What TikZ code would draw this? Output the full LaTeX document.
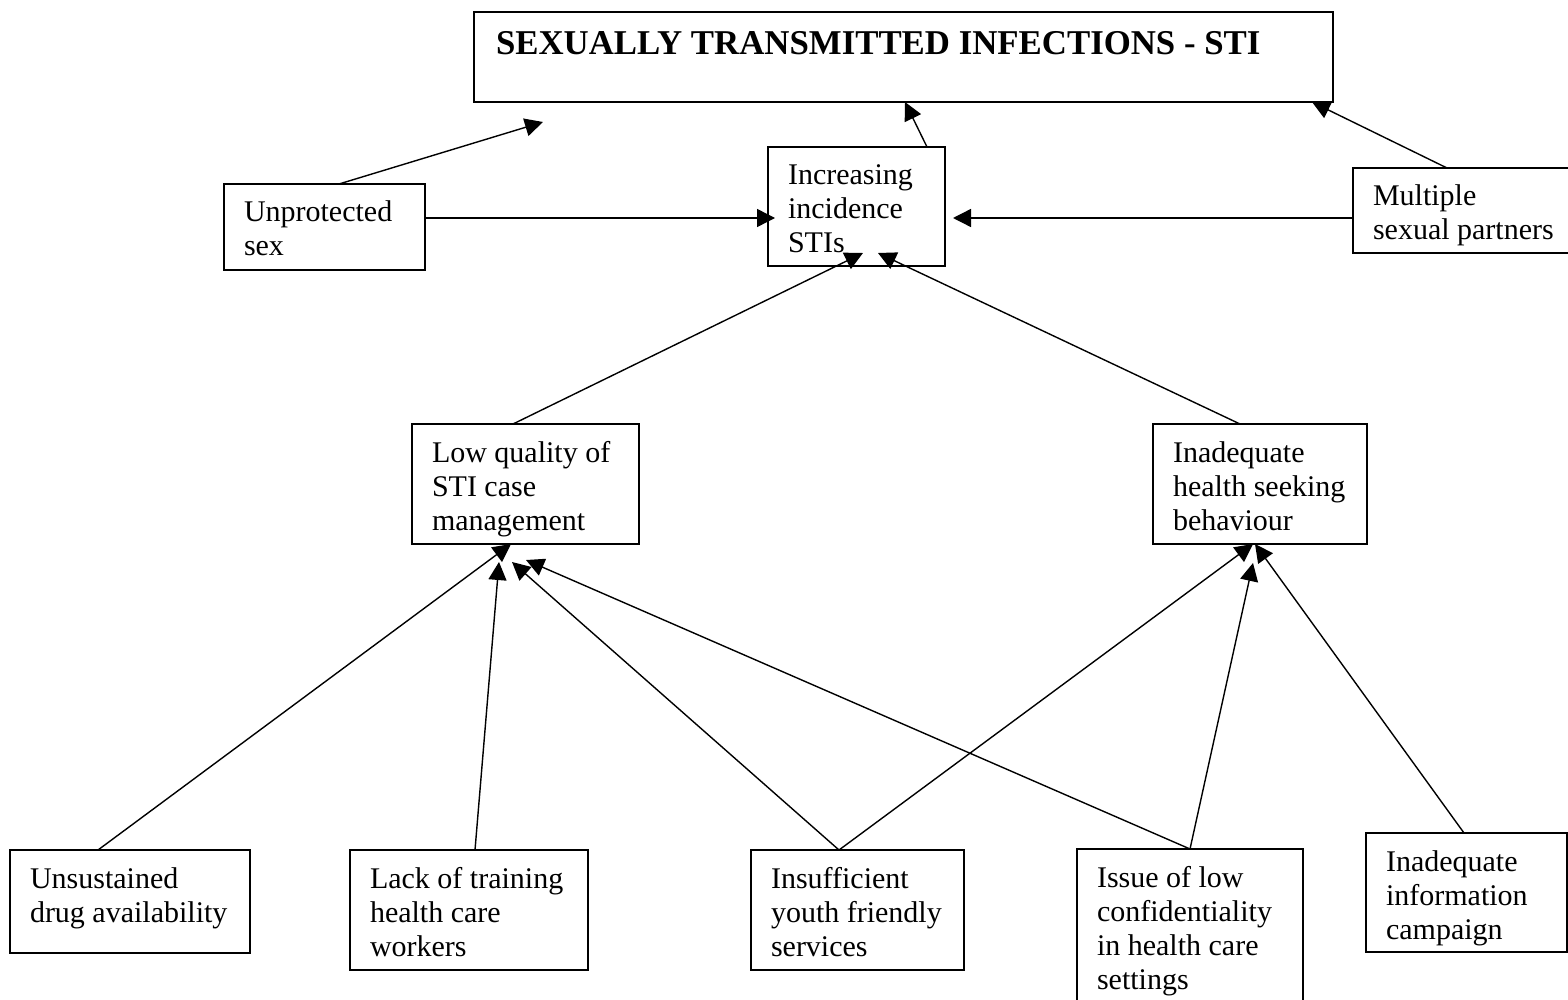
\documentclass[tikz,border=0pt]{standalone}
\usepackage{fontspec}
\setmainfont{Liberation Serif}
\usetikzlibrary{arrows.meta}
% box text: [first-baseline strut]{height px}{width px}{lines}
\newcommand{\bt}[4][19pt]{\parbox[c][\dimexpr#2pt/2\relax][t]{\dimexpr#3pt/2\relax}{\raggedright\leftskip=10pt\rule{0pt}{#1}#4}}
\tikzset{
  bx/.style={draw, line width=0.7pt, anchor=north west, inner sep=0pt, outer sep=0pt,
    font=\fontsize{15pt}{17pt}\selectfont},
  arr/.style={line width=0.7pt, -{Triangle[length=9pt,width=9pt]}}
}
\begin{document}
\begin{tikzpicture}[x=0.5pt,y=-0.5pt]
\useasboundingbox (0,0) rectangle (1568,1000);
\clip (0,0) rectangle (1568,1000);
\fill[white] (0,0) rectangle (1568,1000);

% boxes
\node[bx] (top) at (474,12) {\parbox[c][45pt][t]{429.5pt}{\fontsize{17.4pt}{20pt}\selectfont\bfseries\leftskip=11pt\rule{0pt}{21.5pt}SEXUALLY TRANSMITTED INFECTIONS - STI}};
\node[bx] (inc) at (768,147) {\bt{119}{177}{Increasing\\incidence\\STIs}};
\node[bx] (unp) at (224,184) {\bt{86}{201}{Unprotected\\sex}};
\node[bx] (mult) at (1353,168) {\bt{85}{240}{Multiple\\sexual partners}};
\node[bx] (low) at (412,424) {\bt{120}{227}{Low quality of\\STI case\\management}};
\node[bx] (inad) at (1153,424) {\bt{120}{214}{Inadequate\\health seeking\\behaviour}};
\node[bx] (uns) at (10,850) {\bt{103}{240}{Unsustained\\drug availability}};
\node[bx] (lack) at (350,850) {\bt{120}{238}{Lack of training\\health care\\workers}};
\node[bx] (insuf) at (751,850) {\bt{120}{213}{Insufficient\\youth friendly\\services}};
\node[bx] (issue) at (1077,849) {\bt{180}{226}{Issue of low\\confidentiality\\in health care\\settings}};
\node[bx] (info) at (1366,833) {\bt{119}{201}{Inadequate\\information\\campaign}};

% free arrow end
\coordinate (t1) at (543,122);

% connectors
\draw[arr] ([shift={(115,0)}]unp.north west) -- (t1);
\draw[arr] ([shift={(159,0)}]inc.north west) -- ([shift={(431,0)}]top.south west);
\draw[arr] ([shift={(94,0)}]mult.north west) -- ([shift={(-21,0)}]top.south east);
\draw[arr] ([shift={(0,34)}]unp.north east) -- ([shift={(7,71)}]inc.north west);
\draw[arr] ([shift={(0,50)}]mult.north west) -- ([shift={(8,71)}]inc.north east);
\draw[arr] ([shift={(101,0)}]low.north west) -- ([shift={(95,-13)}]inc.south west);
\draw[arr] ([shift={(87,0)}]inad.north west) -- ([shift={(110,-13)}]inc.south west);

\draw[arr] ([shift={(88,0)}]uns.north west) -- ([shift={(99,0)}]low.south west);
\draw[arr] ([shift={(125,0)}]lack.north west) -- ([shift={(87,18)}]low.south west);
\draw[arr] ([shift={(88,0)}]insuf.north west) -- ([shift={(100,18)}]low.south west);
\draw[arr] ([shift={(113,0)}]issue.north west) -- ([shift={(114,16)}]low.south west);
\draw[arr] ([shift={(88,0)}]insuf.north west) -- ([shift={(100,0)}]inad.south west);
\draw[arr] ([shift={(113,0)}]issue.north west) -- ([shift={(100,19)}]inad.south west);
\draw[arr] ([shift={(98,0)}]info.north west) -- ([shift={(102,0)}]inad.south west);
\end{tikzpicture}
\end{document}
